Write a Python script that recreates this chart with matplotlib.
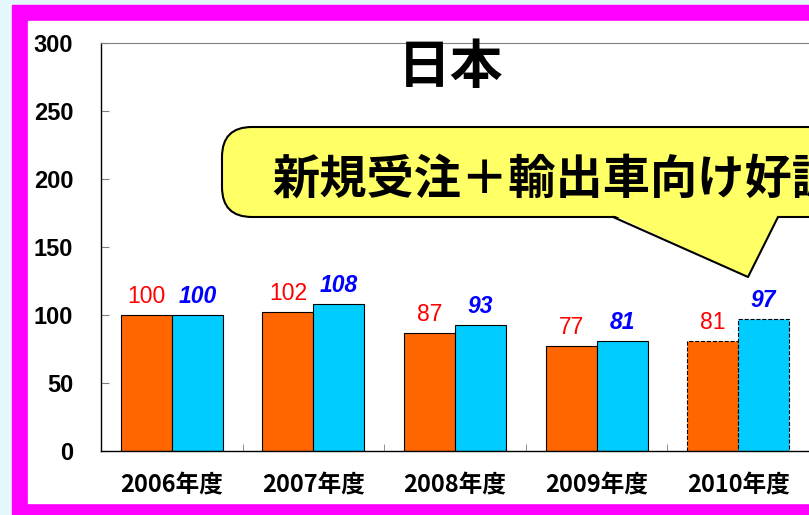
import numpy as np
import matplotlib.pyplot as plt
from matplotlib.patches import Rectangle, FancyBboxPatch, Polygon

# data
years = ["2006年度", "2007年度", "2008年度", "2009年度", "2010年度"]
series_a = [100, 102, 87, 77, 81]     # orange, red labels
series_b = [100, 108, 93, 81, 97]     # cyan, blue italic labels
y_ticks = [0, 50, 100, 150, 200, 250, 300]
title = "日本"
callout = "新規受注＋輸出車向け好調"

W, H = 809, 515
fig = plt.figure(figsize=(W / 100, H / 100), dpi=100, facecolor="#E4F8FC")

# background: magenta frame with white panel (pixel coordinates)
bg = fig.add_axes([0, 0, 1, 1], zorder=-1)
bg.set_xlim(0, W)
bg.set_ylim(H, 0)
bg.axis("off")
bg.add_patch(Rectangle((12, 5), W, H, color="#FF00FF"))
bg.add_patch(Rectangle((28, 21), W, 503 - 21, color="white"))

# main bar chart
ax = fig.add_axes([101 / W, (H - 451) / H, (W - 101) / W, 408 / H])
x = np.arange(len(years))
bw = 0.36
dashed = [False, False, False, False, True]

for i in range(len(years)):
    ls = "--" if dashed[i] else "-"
    ax.bar(x[i] - bw / 2, series_a[i], bw, color="#FF6600",
           edgecolor="black", linewidth=0.8, linestyle=ls)
    ax.bar(x[i] + bw / 2, series_b[i], bw, color="#00CCFF",
           edgecolor="black", linewidth=0.8, linestyle=ls)
    ax.annotate(str(series_a[i]), (x[i] - bw / 2, series_a[i]),
                xytext=(0, 5), textcoords="offset points", ha="center",
                va="bottom", color="red", fontsize=16.5, family="Liberation Sans")
    ax.annotate(str(series_b[i]), (x[i] + bw / 2, series_b[i]),
                xytext=(0, 5), textcoords="offset points", ha="center",
                va="bottom", color="blue", fontsize=16.5, fontweight="bold",
                fontstyle="italic", family="Liberation Sans")

ax.set_xlim(-0.5, -0.5 + (W - 101) / 142)
ax.set_ylim(0, 300)
ax.set_yticks(y_ticks)
ax.set_yticklabels([str(v) for v in y_ticks], fontsize=17, fontweight="bold",
                   family="Liberation Sans")
ax.tick_params(axis="y", direction="in", length=6, color="gray", pad=20)

ax.set_xticks(x)
ax.set_xticklabels(years, fontsize=17, fontweight="bold",
                   family=["Noto Sans CJK JP", "DejaVu Sans"])
ax.set_xticks(np.arange(len(years)) + 0.5, minor=True)
ax.tick_params(axis="x", which="major", length=0, pad=16)
ax.tick_params(axis="x", which="minor", direction="in", length=5, color="gray")

ax.spines["right"].set_visible(False)
ax.spines["top"].set_color("gray")
ax.spines["left"].set_linewidth(1.0)
ax.spines["bottom"].set_linewidth(1.0)

# overlay: title and speech bubble
fg = fig.add_axes([0, 0, 1, 1], zorder=5)
fg.set_xlim(0, W)
fg.set_ylim(H, 0)
fg.axis("off")
fg.patch.set_alpha(0)

fg.text(451, 68, title, ha="center", va="center", fontsize=38,
        fontweight="bold", family="Noto Sans CJK JP")

fg.add_patch(FancyBboxPatch((222, 127), 700, 90,
                            boxstyle="round,pad=0,rounding_size=30",
                            facecolor="#FFFF66", edgecolor="black",
                            linewidth=1.5))
fg.add_patch(Polygon([(611, 214), (748, 277), (780, 214)], closed=True,
                     facecolor="#FFFF66", edgecolor="none"))
fg.plot([613, 748, 778], [217, 277, 217], color="black", linewidth=1.5)
fg.text(272, 180, callout, ha="left", va="center", fontsize=34,
        fontweight="bold", family="Noto Sans CJK JP")

fig.savefig("out.png", dpi=100)
